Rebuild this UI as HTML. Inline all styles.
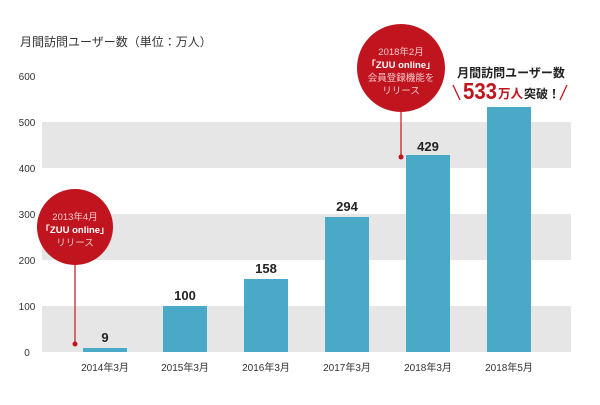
<!DOCTYPE html>
<html><head><meta charset="utf-8"><style>
body{margin:0;background:#fff;}
svg text{font-family:"Liberation Sans","Noto Sans CJK JP",sans-serif;}
</style></head><body>
<svg width="600" height="400" viewBox="0 0 600 400" xmlns="http://www.w3.org/2000/svg">
<rect width="600" height="400" fill="#fff"/>
<text x="20" y="46" font-size="12" fill="#333">月間訪問ユーザー数（単位：万人）</text>
<rect x="42" y="306" width="529" height="46" fill="#e6e6e6"/>
<rect x="42" y="214" width="529" height="46" fill="#e6e6e6"/>
<rect x="42" y="122" width="529" height="46" fill="#e6e6e6"/>
<g font-size="10" fill="#333" text-anchor="middle">
<text x="27" y="356">0</text><text x="27" y="310">100</text><text x="27" y="264">200</text>
<text x="27" y="218">300</text><text x="27" y="172">400</text><text x="27" y="126">500</text><text x="27" y="80">600</text>
</g>
<g fill="#4aa9c6">
<rect x="83" y="348" width="44" height="4"/>
<rect x="163" y="306" width="44" height="46"/>
<rect x="244" y="279" width="44" height="73"/>
<rect x="325" y="217" width="44" height="135"/>
<rect x="406" y="155" width="44" height="197"/>
<rect x="487" y="107" width="44" height="245"/>
</g>
<g font-size="13" font-weight="bold" fill="#222" text-anchor="middle">
<text x="105" y="342">9</text><text x="185" y="300">100</text><text x="266" y="273">158</text>
<text x="347" y="211">294</text><text x="428" y="151">429</text>
</g>
<g font-size="10" fill="#333" text-anchor="middle">
<text x="105" y="371">2014年3月</text><text x="185" y="371">2015年3月</text><text x="266" y="371">2016年3月</text>
<text x="347" y="371">2017年3月</text><text x="428" y="371">2018年3月</text><text x="509" y="371">2018年5月</text>
</g>
<g fill="#c0141f" stroke="#c0141f">
<line x1="75" y1="227" x2="75" y2="344" stroke-width="1.2"/><circle cx="75" cy="344" r="2.5" stroke="none"/>
<circle cx="75" cy="227" r="38" stroke="none"/>
<line x1="401" y1="70" x2="401" y2="157" stroke-width="1.2"/><circle cx="401" cy="157" r="2.5" stroke="none"/>
<circle cx="401" cy="68" r="44" stroke="none"/>
</g>
<g font-size="9.5" fill="#f5c8cb" text-anchor="middle">
<text x="75" y="220">2013年4月</text>
<text x="75" y="233" fill="#fff" font-weight="bold">「ZUU online」</text>
<text x="75" y="246">リリース</text>
<text x="401" y="55">2018年2月</text>
<text x="401" y="68" fill="#fff" font-weight="bold">「ZUU online」</text>
<text x="401" y="81">会員登録機能を</text>
<text x="401" y="94">リリース</text>
</g>
<text x="511" y="77" font-size="12" font-weight="bold" fill="#222" text-anchor="middle">月間訪問ユーザー数</text>
<line x1="453" y1="85" x2="460" y2="100" stroke="#c0141f" stroke-width="1.3"/>
<line x1="567" y1="85" x2="560" y2="100" stroke="#c0141f" stroke-width="1.3"/>
<text x="463" y="99" font-size="23" font-weight="bold" fill="#c0141f" textLength="34" lengthAdjust="spacingAndGlyphs">533</text>
<text x="498" y="98" font-size="12.5" font-weight="bold" fill="#c0141f">万人</text>
<text x="524" y="98" font-size="12" font-weight="bold" fill="#222">突破！</text>
</svg>
</body></html>
